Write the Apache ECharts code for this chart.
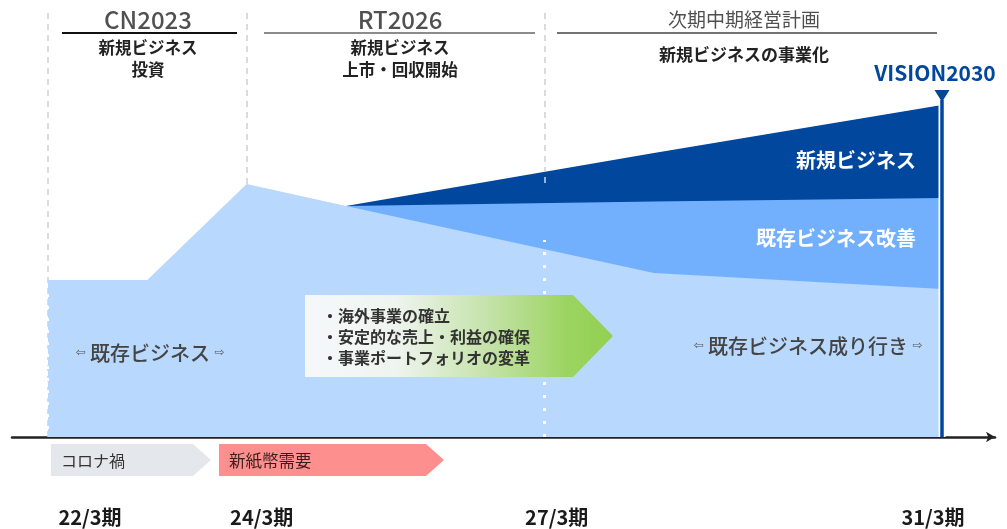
<!DOCTYPE html>
<html><head><meta charset="utf-8">
<script src="https://cdn.jsdelivr.net/npm/echarts@6/dist/echarts.min.js"></script>
<style>html,body{margin:0;padding:0;background:#fff}#c{width:1007px;height:529px}</style>
</head><body><div id="c"></div>
<script>
// ---- data ----
const periods = [22, 24, 27, 31];
const periodLabels = ['22/3期', '24/3期', '27/3期', '31/3期'];
const years = [22, 23, 24, 25, 28.1, 31];
const existing = [157, 157, 253, 231, 164, 148];        // 既存ビジネス（成り行き）
const improvement = [null, null, null, 0, 71.5, 91];    // 既存ビジネス改善
const newBusiness = [null, null, null, 0, 48.5, 93];    // 新規ビジネス
const visionYear = 31;
const visionTop = 337;
const phases = [
  { name: 'CN2023', sub: '新規ビジネス\n投資' },
  { name: 'RT2026', sub: '新規ビジネス\n上市・回収開始' },
  { name: '次期中期経営計画', sub: '新規ビジネスの事業化' }
];
const events = ['コロナ禍', '新紙幣需要'];
const strategy = ['・海外事業の確立', '・安定的な売上・利益の確保', '・事業ポートフォリオの変革'];

// ---- derived ----
const midTop = years.map((x, i) => improvement[i] == null ? null : [x, existing[i] + improvement[i]]).filter(Boolean);
const totalTop = years.map((x, i) => improvement[i] == null ? null : [x, existing[i] + improvement[i] + newBusiness[i]]).filter(Boolean);
const baseLine = years.map((x, i) => [x, existing[i]]);

const FONT = '"Noto Sans CJK JP", "Noto Sans", sans-serif';
const chart = echarts.init(document.getElementById('c'));

function areaSeries(name, data, color, z) {
  return {
    name, type: 'line', data, symbol: 'none', silent: true, z,
    lineStyle: { width: 0 }, areaStyle: { color, opacity: 1 }
  };
}

chart.setOption({
  animation: false,
  grid: { left: 12, right: 12, top: 0, height: 437 },
  xAxis: {
    type: 'value', min: 22 - 36 / 99.333, max: 31 + 53 / 99.333,
    axisLine: { show: true, onZero: false, symbol: ['none', 'arrow'], symbolSize: [8, 9],
      lineStyle: { color: '#222', width: 2.5 } },
    axisTick: { show: false }, axisLabel: { show: false }, splitLine: { show: false }
  },
  yAxis: { type: 'value', min: 0, max: 437, show: false, splitLine: { show: false } },
  series: [
    {
      type: 'line', data: [[periods[0], 0]], symbol: 'none', z: 1, silent: true,
      markLine: {
        z: 1, silent: true, symbol: ['none', 'none'], label: { show: false },
        lineStyle: { color: '#cfcfcf', type: [6, 5], width: 1.5 },
        data: periods.slice(0, 3).map(p => [{ coord: [p, 0] }, { coord: [p, 428] }])
      }
    },
    areaSeries('新規ビジネス', totalTop, '#00479d', 2),
    areaSeries('既存ビジネス改善', midTop, '#72b0fe', 2),
    areaSeries('既存ビジネス', baseLine, '#b8d8fd', 2),
    {
      type: 'line', data: [[periods[0], 0]], symbol: 'none', z: 3, silent: true,
      markLine: {
        z: 3, silent: true, symbol: ['none', 'none'], label: { show: false },
        data: [
          [{ coord: [periods[0], 8], lineStyle: { color: '#fff', type: [3, 9], width: 2 } }, { coord: [periods[0], 150] }],
          [{ coord: [periods[2], 0], lineStyle: { color: '#fff', type: [3, 10], width: 3 } }, { coord: [periods[2], 197] }],
          [{ coord: [periods[2], 254], lineStyle: { color: '#c9d6e8', type: [6, 5], width: 1.5 } }, { coord: [periods[2], 266] }]
        ]
      }
    },
    {
      type: 'line', data: [[visionYear, 0], [visionYear, visionTop]], symbol: 'none', z: 4, silent: true,
      lineStyle: { color: '#fff', width: 7 }
    },
    {
      type: 'line', data: [[visionYear, 0], [visionYear, visionTop]], symbol: 'none', z: 5, silent: true,
      lineStyle: { color: '#00479d', width: 3.5 }
    },
    {
      type: 'scatter', data: [[visionYear, visionTop + 4]], symbol: 'triangle', symbolRotate: 180,
      symbolSize: [15, 12], z: 6, silent: true, itemStyle: { color: '#00479d', opacity: 1 },
      label: { show: true, position: 'top', distance: 6, offset: [-7, 0], formatter: 'VISION2030',
        color: '#00479d', textBorderWidth: 0, fontSize: 21, fontWeight: 'bold', fontFamily: FONT }
    }
  ]
});

const px = v => chart.convertToPixel({ xAxisIndex: 0 }, v);

// layout (pixel positions for annotations)
const headerX = [148, 400, 744];
const underline = [[62, 237, '#111', 2], [264, 535, '#666', 1.5], [557, 937, '#444', 1.3]];
const periodOffsets = [42, 15, 12, -9];

const g = [];
phases.forEach((ph, i) => {
  g.push({ type: 'text', z: 20, style: { text: ph.name, x: headerX[i], y: 20, align: 'center', verticalAlign: 'middle',
    fontSize: i === 2 ? 19 : 24, fontWeight: i === 2 ? 'normal' : 500, fontFamily: FONT, fill: '#505050' } });
  g.push({ type: 'line', z: 20, shape: { x1: underline[i][0], y1: 33, x2: underline[i][1], y2: 33 },
    style: { stroke: underline[i][2], lineWidth: underline[i][3] } });
  g.push({ type: 'text', z: 20, style: { text: ph.sub, x: headerX[i], y: i === 2 ? 55 : 59, align: 'center', verticalAlign: 'middle',
    fontSize: i === 2 ? 17 : 16.5, lineHeight: 22, fontWeight: 'bold', fontFamily: FONT, fill: '#222' } });
});

periodLabels.forEach((t, i) => {
  g.push({ type: 'text', z: 20, style: { text: t, x: px(periods[i]) + periodOffsets[i], y: 517, align: 'center', verticalAlign: 'middle',
    fontSize: 20, fontWeight: 'bold', fontFamily: FONT, fill: '#1a1a1a' } });
});

// event arrows
g.push({ type: 'polygon', z: 20, shape: { points: [[51, 444], [193, 444], [211, 460], [193, 476], [51, 476]] }, style: { fill: '#e4e7eb' } });
g.push({ type: 'text', z: 21, style: { text: events[0], x: 61, y: 461, verticalAlign: 'middle', fontSize: 16, fontFamily: FONT, fill: '#333' } });
g.push({ type: 'polygon', z: 20, shape: { points: [[219, 444], [426, 444], [444, 460], [426, 476], [219, 476]] }, style: { fill: '#fe8f8f' } });
g.push({ type: 'text', z: 21, style: { text: events[1], x: 229, y: 461, verticalAlign: 'middle', fontSize: 16.5, fontFamily: FONT, fill: '#3a1e1e' } });

// green strategy arrow
g.push({ type: 'polygon', z: 20, shape: { points: [[305, 295], [573, 295], [613, 336], [573, 377], [305, 377]] },
  style: { fill: new echarts.graphic.LinearGradient(0, 0, 1, 0, [
    { offset: 0, color: '#f6f8fb' }, { offset: 0.3, color: '#eef4ee' }, { offset: 0.6, color: '#c4e2a8' },
    { offset: 0.85, color: '#9cd461' }, { offset: 1, color: '#92d050' }]) } });
g.push({ type: 'text', z: 21, style: { text: strategy.join('\n'), x: 322, y: 337, verticalAlign: 'middle',
  fontSize: 16, lineHeight: 21, fontWeight: 'bold', fontFamily: FONT, fill: '#333' } });

// area labels
const arrowRich = { a: { fontSize: 12, fill: '#555', fontFamily: 'DejaVu Sans' } };
g.push({ type: 'text', z: 21, style: { text: '{a|⇦} 既存ビジネス {a|⇨}', x: 150, y: 353, align: 'center', verticalAlign: 'middle',
  fontSize: 20, fontWeight: 500, fontFamily: FONT, fill: '#444', rich: arrowRich } });
g.push({ type: 'text', z: 21, style: { text: '{a|⇦} 既存ビジネス成り行き {a|⇨}', x: 808, y: 346, align: 'center', verticalAlign: 'middle',
  fontSize: 20, fontWeight: 500, fontFamily: FONT, fill: '#444', rich: arrowRich } });
g.push({ type: 'text', z: 21, style: { text: '新規ビジネス', x: 916, y: 160, align: 'right', verticalAlign: 'middle',
  fontSize: 20, fontWeight: 'bold', fontFamily: FONT, fill: '#fff' } });
g.push({ type: 'text', z: 21, style: { text: '既存ビジネス改善', x: 916, y: 238, align: 'right', verticalAlign: 'middle',
  fontSize: 20, fontWeight: 'bold', fontFamily: FONT, fill: '#fff' } });

chart.setOption({ graphic: g });
</script></body></html>
